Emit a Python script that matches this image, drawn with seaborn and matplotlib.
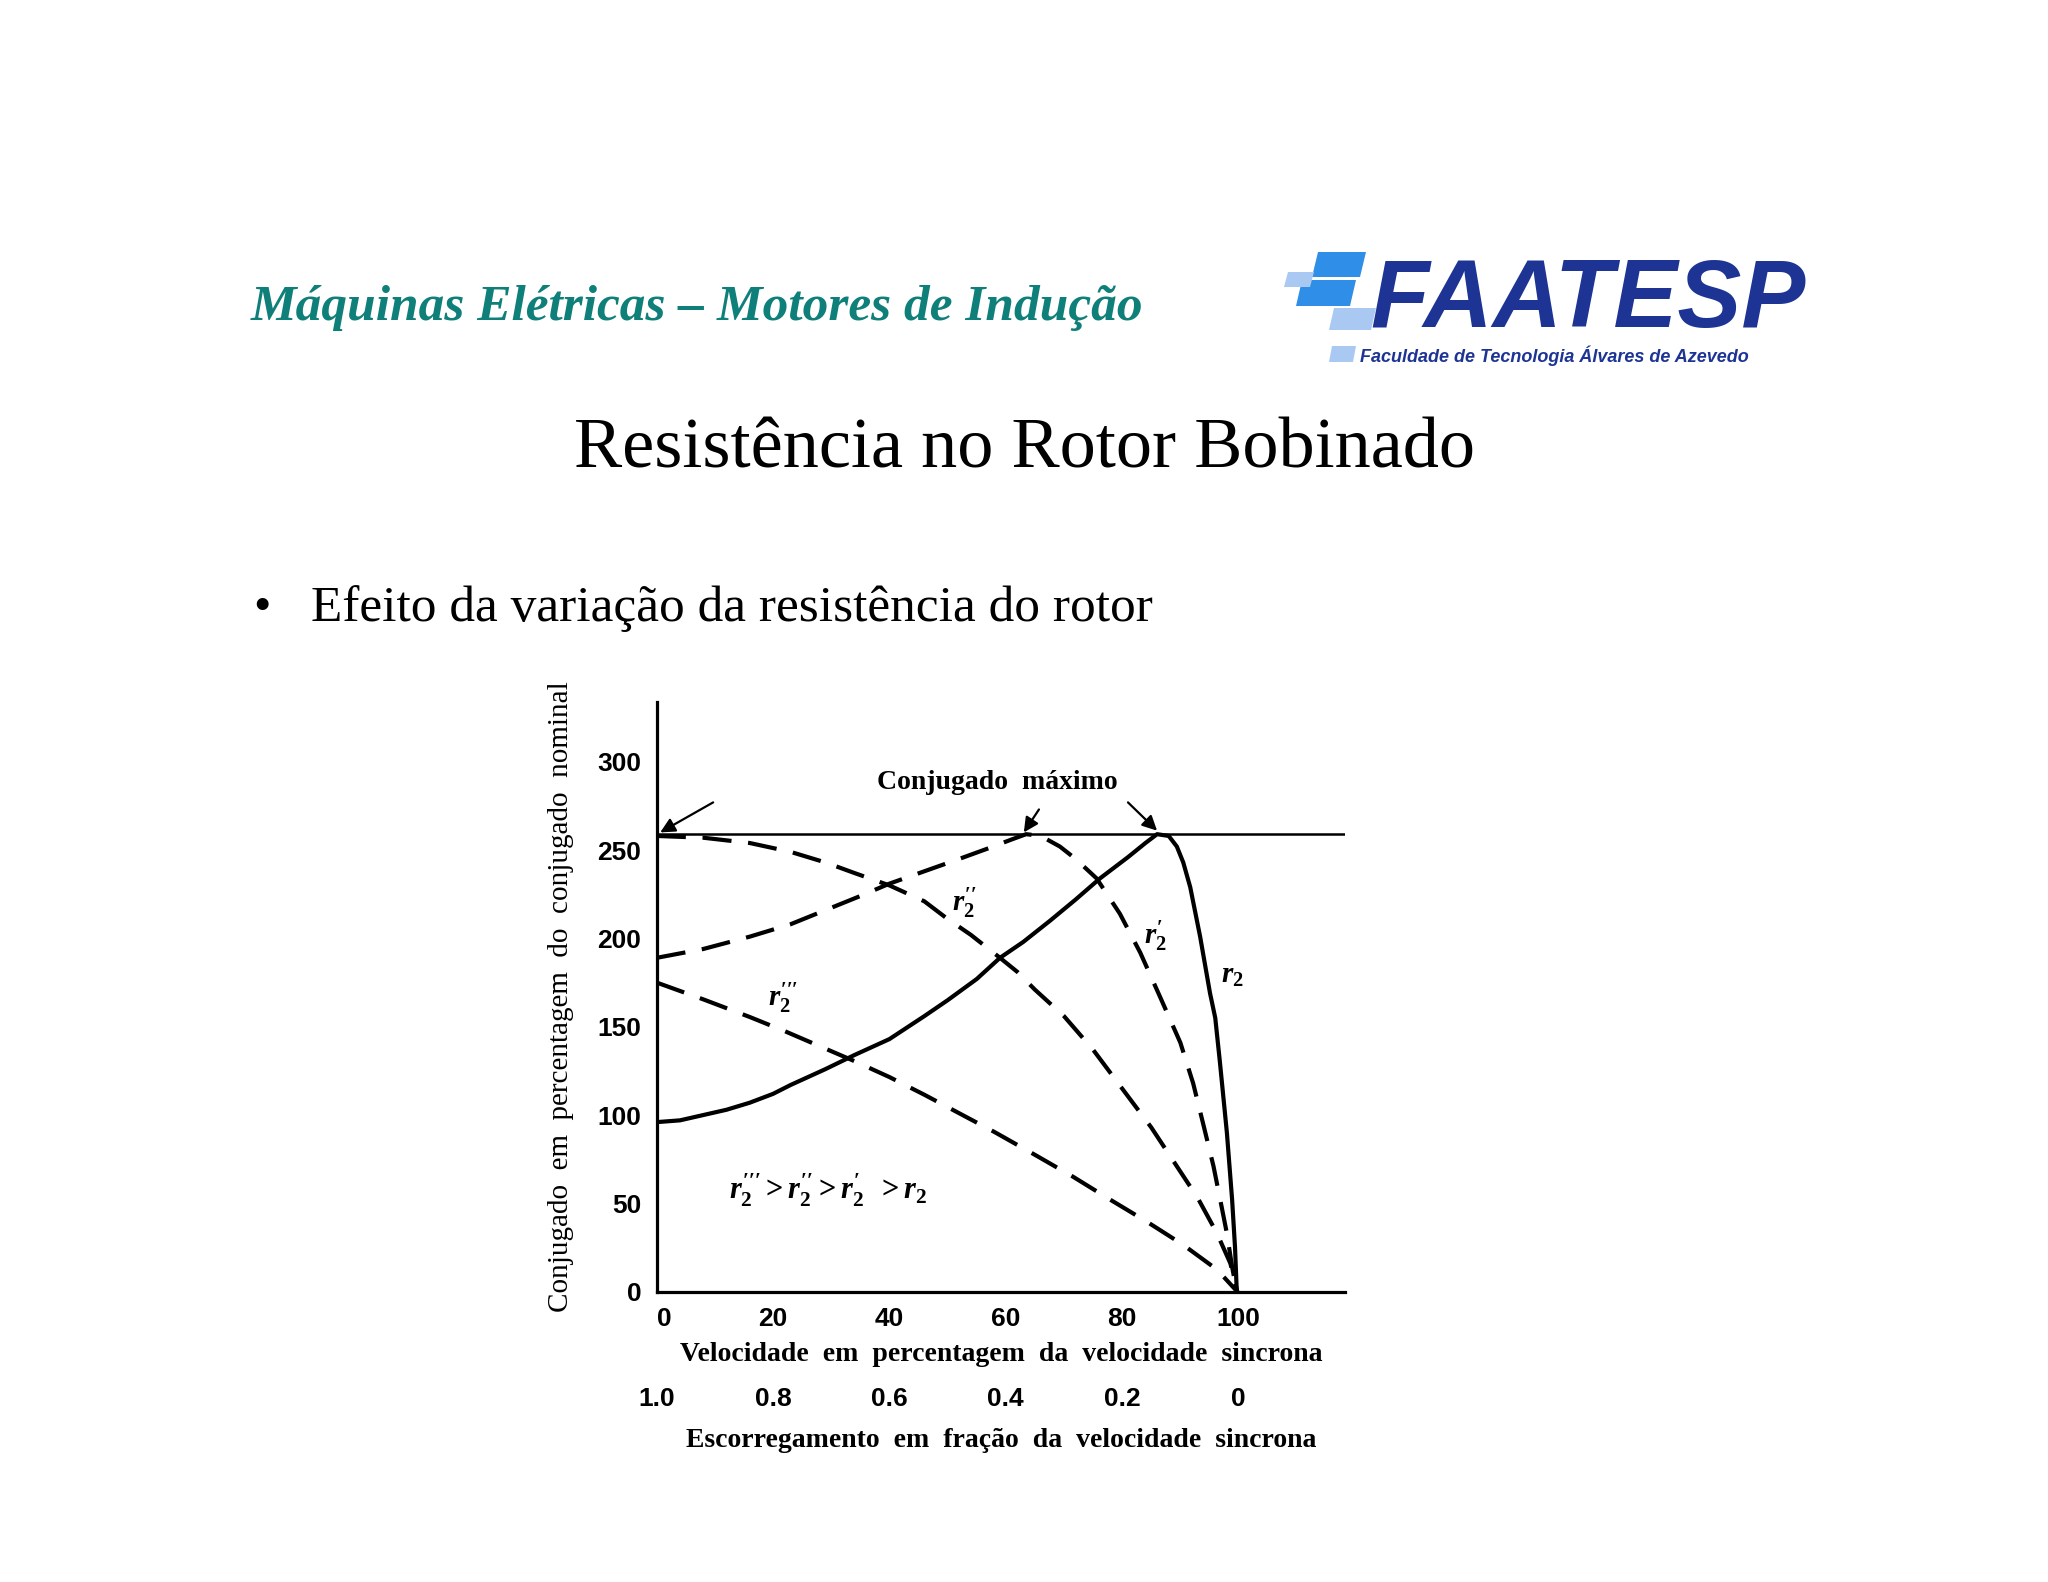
import matplotlib
matplotlib.use('Agg')
import matplotlib.pyplot as plt
import seaborn as sns
import pandas as pd
from matplotlib.patches import Polygon

# curvas conjugado x velocidade
speed_r2 = [0, 4, 8, 12, 16, 20, 23, 29, 34, 40, 46, 50, 55, 59, 63, 67.6, 72, 76.2, 81, 84, 86, 88, 89.4, 90.5, 91.7, 93.4, 95.1, 96.0, 96.8, 98, 98.9, 99.4, 99.7]
torque_r2 = [96, 97, 100, 103, 107, 112, 117, 126, 134, 143, 156, 165, 177, 189, 198, 210, 222, 234, 246, 254, 259, 258, 252, 243, 229, 201, 169, 155, 130, 90, 52, 25, 0]

speed_r2p = [0, 8, 16, 23, 29, 35, 40, 46, 52, 57, 61, 63.5, 66, 69.3, 72, 75.6, 79.6, 83.1, 86.5, 90, 92.2, 94, 95.7, 97.1, 98, 98.9, 99.7]
torque_r2p = [189, 194, 201, 208, 216, 224, 231, 238, 245, 251, 256, 259, 258, 252, 245, 234, 214, 192, 167, 141, 118, 94, 71, 48, 33, 14, 0]

speed_r2pp = [0, 8, 16, 23, 29, 34, 40, 46, 50, 54, 59, 62, 65, 70, 75, 80, 85, 89, 93, 96.3, 98.6, 99.8]
torque_r2pp = [258, 257, 254, 249, 243, 237, 230, 221, 211, 202, 189, 181, 171, 156, 137, 115, 93, 73, 53, 33, 16, 0]

speed_r2ppp = [0, 8, 16, 22, 28, 34, 40, 46, 52, 58, 65, 71.6, 78, 84.3, 90.5, 96.3, 99.8]
torque_r2ppp = [175, 165.5, 155.5, 147.5, 139, 130.5, 121.5, 111.5, 101, 90.5, 77.5, 65, 52, 39.5, 26.5, 12.5, 0]

max_torque = 259
x_ticks = [0, 20, 40, 60, 80, 100]
y_ticks = [0, 50, 100, 150, 200, 250, 300]
slip_ticks = [1.0, 0.8, 0.6, 0.4, 0.2, 0]
slip_labels = ['1.0', '0.8', '0.6', '0.4', '0.2', '0']

df = pd.concat([
    pd.DataFrame({'speed': speed_r2, 'torque': torque_r2, 'curve': 'r2'}),
    pd.DataFrame({'speed': speed_r2p, 'torque': torque_r2p, 'curve': 'r2p'}),
    pd.DataFrame({'speed': speed_r2pp, 'torque': torque_r2pp, 'curve': 'r2pp'}),
    pd.DataFrame({'speed': speed_r2ppp, 'torque': torque_r2ppp, 'curve': 'r2ppp'}),
])

sns.set_theme(style='white')
plt.rcParams['font.family'] = ['Liberation Serif', 'DejaVu Serif']
plt.rcParams['text.color'] = 'black'
plt.rcParams['axes.labelcolor'] = 'black'
plt.rcParams['xtick.color'] = 'black'
plt.rcParams['ytick.color'] = 'black'
plt.rcParams['mathtext.fontset'] = 'custom'
plt.rcParams['mathtext.it'] = 'Liberation Serif:bold:italic'
plt.rcParams['mathtext.rm'] = 'Liberation Serif:bold'
plt.rcParams['mathtext.bf'] = 'Liberation Serif:bold'

W, H = 2048, 1582
fig = plt.figure(figsize=(W / 100, H / 100), dpi=100)
fig.patch.set_facecolor('white')

def fx(px):
    return px / W

def fy(py):
    return 1 - py / H

# cabecalho
fig.text(fx(251), fy(320), 'Máquinas Elétricas – Motores de Indução', color='#0f7f7a',
         fontsize=37, fontweight='bold', fontstyle='italic', va='baseline')
fig.text(0.5, fy(467), 'Resistência no Rotor Bobinado', fontsize=52, ha='center', va='baseline')
fig.text(fx(253), fy(621), '•', fontsize=36, va='baseline')
fig.text(fx(311), fy(621), 'Efeito da variação da resistência do rotor', fontsize=37, va='baseline')

# logo FAATESP (aproximado)
blocks = [
    ('#2f8fe8', [(1318, 252), (1366, 252), (1360, 277), (1312, 277)]),
    ('#2f8fe8', [(1302, 280), (1356, 280), (1350, 306), (1296, 306)]),
    ('#a9c9f2', [(1288, 272), (1314, 272), (1310, 287), (1284, 287)]),
    ('#a9c9f2', [(1334, 308), (1376, 308), (1371, 330), (1329, 330)]),
    ('#a9c9f2', [(1332, 346), (1356, 346), (1353, 362), (1329, 362)]),
]
for col, pts in blocks:
    fig.add_artist(Polygon([(fx(a), fy(b)) for a, b in pts], closed=True, transform=fig.transFigure,
                           facecolor=col, edgecolor='none'))
fig.text(fx(1370), fy(327), 'FAATESP', fontsize=69, fontweight='bold', fontstyle='italic',
         family='Liberation Sans', color='#1d3494', va='baseline')
fig.text(fx(1360), fy(362), 'Faculdade de Tecnologia Álvares de Azevedo', fontsize=13,
         fontweight='bold', fontstyle='italic', family='Liberation Sans', color='#1d3494', va='baseline')

# grafico
ax = fig.add_axes([fx(656.7), fy(1291.7), (1345 - 656.7) / W, (1291.7 - 701.7) / H])
sns.lineplot(data=df, x='speed', y='torque', hue='curve', style='curve',
             palette={'r2': 'black', 'r2p': 'black', 'r2pp': 'black', 'r2ppp': 'black'},
             dashes={'r2': '', 'r2p': (7, 4), 'r2pp': (7, 4), 'r2ppp': (7, 4)},
             estimator=None, sort=False, linewidth=3.0, legend=False, ax=ax)
ax.axhline(max_torque, color='black', lw=1.8)

ax.set_xlim(0, 118.3)
ax.set_ylim(0, 334)
for s in ['top', 'right']:
    ax.spines[s].set_visible(False)
for s in ['left', 'bottom']:
    ax.spines[s].set_color('black')
    ax.spines[s].set_linewidth(2.3)
ax.set_xticks(x_ticks)
ax.set_yticks(y_ticks)
ax.tick_params(axis='both', direction='in', length=8, width=1.8, color='black', labelsize=19, pad=11)
for lab in ax.get_xticklabels() + ax.get_yticklabels():
    lab.set_family('Liberation Sans')
    lab.set_fontweight('bold')
ax.get_xticklabels()[0].set_horizontalalignment('left')

ax.set_xlabel('Velocidade  em  percentagem  da  velocidade  sincrona', fontsize=20, fontweight='bold', labelpad=8)
ax.set_ylabel('Conjugado  em  percentagem  do  conjugado  nominal', fontsize=21, labelpad=17)

sec = ax.secondary_xaxis(-0.16, functions=(lambda v: 1 - v / 100, lambda s: 100 * (1 - s)))
sec.set_xticks(slip_ticks)
sec.set_xticklabels(slip_labels)
sec.spines['bottom'].set_visible(False)
sec.tick_params(length=0, pad=1, labelsize=19)
for lab in sec.get_xticklabels():
    lab.set_family('Liberation Sans')
    lab.set_fontweight('bold')
sec.set_xlabel('Escorregamento  em  fração  da  velocidade  sincrona', fontsize=20, fontweight='bold', labelpad=12)

# anotacoes
ax.text(58.5, 288.3, 'Conjugado  máximo', fontsize=20, fontweight='bold', ha='center', va='center')
arrow = dict(arrowstyle='-|>', color='black', lw=1.6, mutation_scale=22, shrinkA=0, shrinkB=0)
ax.annotate('', xy=(0.6, 260), xytext=(9.7, 277), arrowprops=arrow)
ax.annotate('', xy=(63.1, 260), xytext=(65.7, 273), arrowprops=arrow)
ax.annotate('', xy=(86, 261), xytext=(81, 277), arrowprops=arrow)

ax.text(52.9, 219.7, r"$r_2^{\prime\prime}$", fontsize=21, ha='center', va='center')
ax.text(21.8, 166, r"$r_2^{\prime\prime\prime}$", fontsize=21, ha='center', va='center')
ax.text(85.7, 201, r"$r_2^{\prime}$", fontsize=21, ha='center', va='center')
ax.text(98.9, 179, r"$r_2$", fontsize=21, ha='center', va='center')
ax.text(29.5, 57.4, r"$r_2^{\prime\prime\prime} > r_2^{\prime\prime} > r_2^{\prime}\;\; > r_2$",
        fontsize=22, ha='center', va='center')

fig.savefig('out.png', dpi=100, facecolor='white')
